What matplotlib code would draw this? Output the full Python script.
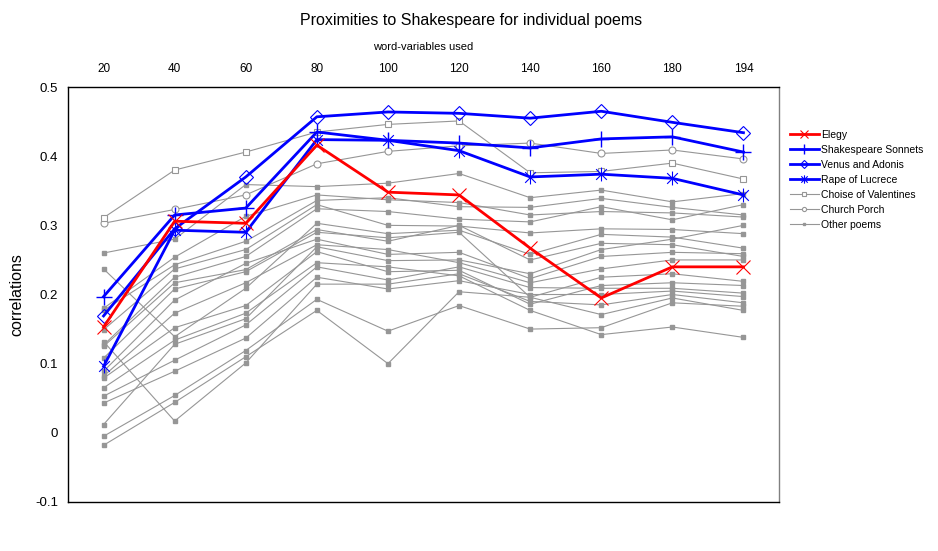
import matplotlib
matplotlib.use("Agg")
import matplotlib.pyplot as plt
import numpy as np
from matplotlib.path import Path

plt.rcParams["font.family"] = ["Liberation Sans", "DejaVu Sans"]

# word-variables used (category axis, evenly spaced)
words = ["20", "40", "60", "80", "100", "120", "140", "160", "180", "194"]

elegy = [0.153, 0.306, 0.303, 0.416, 0.348, 0.344, 0.267, 0.195, 0.240, 0.240]
sonnets = [0.197, 0.315, 0.325, 0.435, 0.423, 0.419, 0.412, 0.425, 0.428, 0.406]
venus = [0.169, 0.295, 0.370, 0.457, 0.464, 0.462, 0.455, 0.465, 0.449, 0.434]
lucrece = [0.096, 0.293, 0.290, 0.424, 0.423, 0.408, 0.370, 0.374, 0.368, 0.344]
valentines = [0.311, 0.380, 0.406, 0.435, 0.446, 0.451, 0.376, 0.378, 0.390, 0.367]
church = [0.303, 0.323, 0.344, 0.389, 0.407, 0.415, 0.419, 0.404, 0.409, 0.396]

other = [
    [0.260, 0.280, 0.359, 0.356, 0.361, 0.375, 0.340, 0.351, 0.334, 0.346],
    [0.237, 0.139, 0.209, 0.303, 0.288, 0.293, 0.258, 0.287, 0.283, 0.267],
    [0.180, 0.254, 0.313, 0.344, 0.337, 0.333, 0.315, 0.320, 0.318, 0.312],
    [0.177, 0.243, 0.277, 0.336, 0.340, 0.327, 0.326, 0.339, 0.326, 0.315],
    [0.149, 0.237, 0.265, 0.330, 0.300, 0.299, 0.289, 0.295, 0.294, 0.288],
    [0.132, 0.017, 0.101, 0.215, 0.215, 0.230, 0.190, 0.185, 0.200, 0.188],
    [0.127, 0.225, 0.255, 0.324, 0.320, 0.309, 0.305, 0.327, 0.308, 0.330],
    [0.125, 0.217, 0.236, 0.294, 0.277, 0.300, 0.250, 0.274, 0.272, 0.255],
    [0.108, 0.208, 0.233, 0.290, 0.282, 0.290, 0.196, 0.225, 0.230, 0.219],
    [0.089, 0.192, 0.245, 0.280, 0.258, 0.261, 0.223, 0.255, 0.261, 0.259],
    [0.082, 0.173, 0.217, 0.272, 0.265, 0.246, 0.217, 0.237, 0.250, 0.250],
    [0.079, 0.152, 0.184, 0.262, 0.233, 0.235, 0.186, 0.213, 0.217, 0.213],
    [0.065, 0.134, 0.173, 0.246, 0.240, 0.227, 0.177, 0.142, 0.153, 0.138],
    [0.053, 0.105, 0.156, 0.240, 0.221, 0.240, 0.210, 0.209, 0.209, 0.202],
    [0.043, 0.089, 0.137, 0.225, 0.208, 0.220, 0.200, 0.200, 0.205, 0.197],
    [0.012, 0.128, 0.165, 0.269, 0.249, 0.250, 0.230, 0.265, 0.280, 0.300],
    [-0.005, 0.054, 0.119, 0.193, 0.147, 0.184, 0.150, 0.152, 0.188, 0.183],
    [-0.018, 0.044, 0.110, 0.177, 0.100, 0.204, 0.196, 0.171, 0.195, 0.177],
]

# Excel style asterisk marker: x with a vertical bar
star = Path([(-1, -1), (1, 1), (-1, 1), (1, -1), (0, -1.3), (0, 1.3)],
            [Path.MOVETO, Path.LINETO, Path.MOVETO, Path.LINETO, Path.MOVETO, Path.LINETO])

x = np.arange(len(words))
grey = "#969696"

fig = plt.figure(figsize=(9.38, 5.51), dpi=100)
ax = fig.add_axes([0.0725, 0.089, 0.758, 0.753])

for i, s in enumerate(other):
    ax.plot(x, s, "-s", color=grey, lw=0.8, ms=2.5, mec=grey, mfc=grey,
            label="Other poems" if i == 0 else None, zorder=2)

ax.plot(x, church, "-o", color=grey, lw=0.8, ms=5, mfc="white", mec=grey, mew=0.8,
        label="Church Porch", zorder=3)
ax.plot(x, valentines, "-s", color=grey, lw=0.8, ms=5, mfc="white", mec=grey, mew=0.8,
        label="Choise of Valentines", zorder=3)
ax.plot(x, lucrece, "-", color="#0000ff", lw=2, marker=star, ms=10, mew=0.8,
        label="Rape of Lucrece", zorder=4)
ax.plot(x, venus, "-D", color="#0000ff", lw=2, ms=7, mfc="none", mew=0.8,
        label="Venus and Adonis", zorder=4)
ax.plot(x, sonnets, "-+", color="#0000ff", lw=2, ms=11, mew=1,
        label="Shakespeare Sonnets", zorder=4)
ax.plot(x, elegy, "-x", color="#ff0000", lw=2, ms=10, mew=0.8,
        label="Elegy", zorder=5)

ax.set_xlim(-0.5, len(words) - 0.5)
ax.set_ylim(-0.1, 0.5)
ax.set_yticks([-0.1, 0, 0.1, 0.2, 0.3, 0.4, 0.5])
ax.set_yticklabels(["-0.1", "0", "0.1", "0.2", "0.3", "0.4", "0.5"])
ax.set_xticks(x)
ax.set_xticklabels(words)
ax.xaxis.tick_top()
ax.xaxis.set_label_position("top")
ax.tick_params(axis="x", length=0, labelsize=8.5, pad=9)
ax.tick_params(axis="y", length=0, labelsize=9.5, pad=7)
ax.set_xlabel("word-variables used", fontsize=8, labelpad=9)
ax.set_ylabel("correlations", fontsize=11.5, labelpad=8)
fig.text(0.502, 0.963, "Proximities to Shakespeare for individual poems",
         ha="center", va="center", fontsize=11.5)

for side in ["left", "top", "bottom"]:
    ax.spines[side].set_color("black")
    ax.spines[side].set_linewidth(1)
ax.spines["right"].set_color("#808080")
ax.spines["right"].set_linewidth(1)

h, l = ax.get_legend_handles_labels()
order = ["Elegy", "Shakespeare Sonnets", "Venus and Adonis", "Rape of Lucrece",
         "Choise of Valentines", "Church Porch", "Other poems"]
hd = dict(zip(l, h))
ax.legend([hd[k] for k in order], order, loc="upper left",
          bbox_to_anchor=(1.015, 0.897), frameon=False, fontsize=7.5,
          handlelength=2.8, handletextpad=0.25, labelspacing=0.48,
          borderaxespad=0, borderpad=0, markerscale=0.6)

fig.savefig("out.png", dpi=100)
